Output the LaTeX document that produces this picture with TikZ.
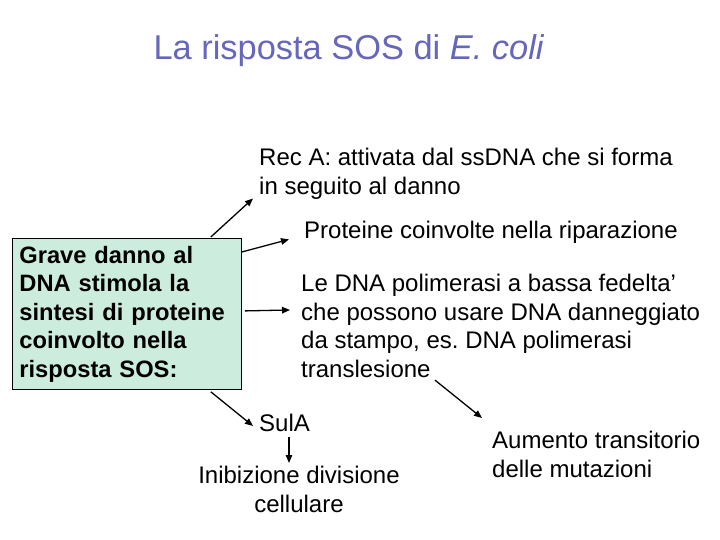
\documentclass[tikz,border=0pt]{standalone}
\usepackage{fontspec}
\setmainfont{Liberation Sans}
\usetikzlibrary{arrows.meta,calc}
\definecolor{titleblue}{RGB}{102,102,187}
\definecolor{boxgreen}{RGB}{204,236,221}
\frenchspacing
\tikzset{
  body/.style={inner sep=0pt, align=left, anchor=north west, font=\fontsize{24}{28.7}\selectfont},
  arr/.style={line width=1.3pt, -{Triangle[length=8pt,width=6.5pt]}},
}
\begin{document}
\begin{tikzpicture}[x=1pt,y=-1pt]
\useasboundingbox[fill=white] (0,0) rectangle (720,540);
\node[anchor=base, text=titleblue, inner sep=0pt, font=\fontsize{34.4}{40}\selectfont] (title) at (349,60) {La risposta SOS di \textit{E. coli}};
\node[draw=black, line width=0.8pt, fill=boxgreen, anchor=north west, minimum width=229pt, minimum height=151pt, text width=215pt, inner xsep=7pt, align=left, font=\bfseries\fontsize{23.7}{28.5}\selectfont] (cause) at (12,238) {Grave danno al\\DNA stimola la\\sintesi di proteine\\coinvolto nella\\risposta SOS:};
\node[body] (recA) at (259,148) {Rec A: attivata dal ssDNA che si forma\\in seguito al danno};
\node[body] (prot) at (304,221) {Proteine coinvolte nella riparazione};
\node[body] (pol) at (301,274) {Le DNA polimerasi a bassa fedelta’\\che possono usare DNA danneggiato\\da stampo, es. DNA polimerasi\\translesione};
\node[body] (sula) at (259,414) {SulA};
\node[body, anchor=north, align=center] (inib) at (299,466) {Inibizione divisione\\cellulare};
\node[body] (aum) at (492,431) {Aumento transitorio\\delle mutazioni};
\draw[arr] ($(cause.north east)+(-31,-1)$) -- ($(recA.south west)+(-6,-1)$);
\draw[arr] ($(cause.north east)+(0,14)$) -- ($(prot.west)+(-15,7)$);
\draw[arr] ($(cause.east)+(3,-3)$) -- ($(pol.north west)+(-11,36)$);
\draw[arr] ($(cause.south east)+(-31,2)$) -- ($(sula.west)+(-6,3)$);
\draw[arr] ($(sula.south west)+(30,5)$) -- ($(inib.north)+(-10,-3)$);
\draw[arr] ($(pol.south west)+(134,2)$) -- ($(aum.north west)+(-10,-13)$);
\end{tikzpicture}
\end{document}
